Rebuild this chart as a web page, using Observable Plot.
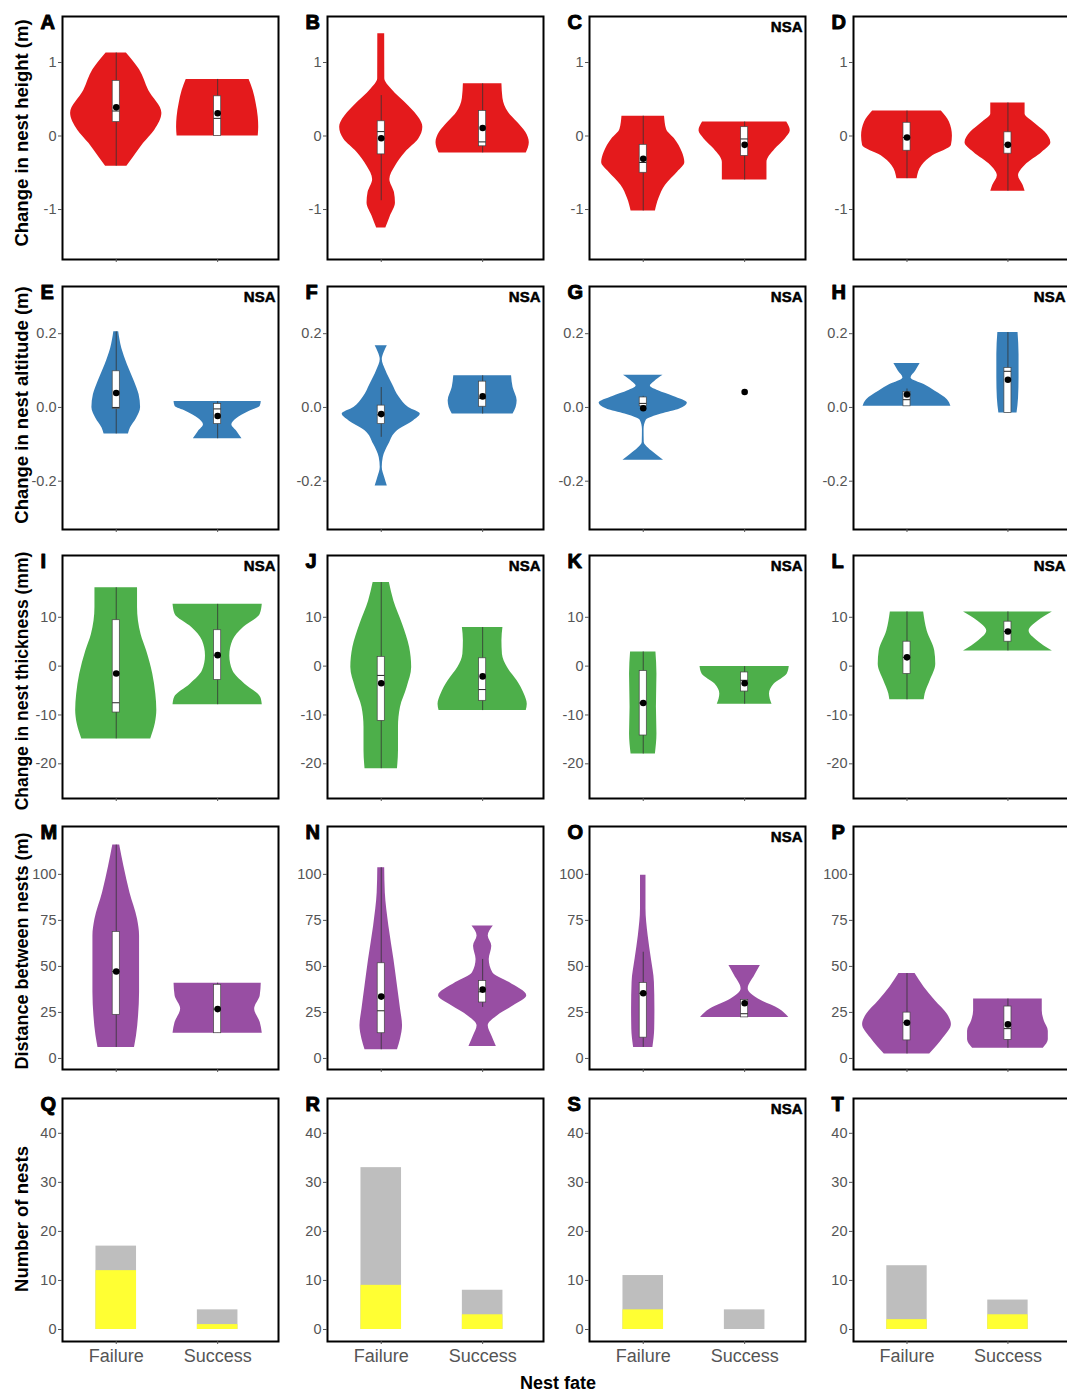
<!DOCTYPE html>
<html><head><meta charset="utf-8">
<script src="https://cdn.jsdelivr.net/npm/d3@7"></script>
<script src="https://cdn.jsdelivr.net/npm/@observablehq/plot@0.6"></script>
<style>
body{margin:0;background:#fff;}
#fig{position:relative;width:1067px;height:1391px;overflow:hidden;background:#fff;font-family:"Liberation Sans",Arial,sans-serif;}
.panel{position:absolute;}
.panel svg{max-width:none !important;}
.ytitle{position:absolute;width:320px;height:22px;line-height:22px;text-align:center;font-weight:bold;font-size:18.5px;color:#000;transform:rotate(-90deg);transform-origin:center center;white-space:nowrap;}
.xtitle{position:absolute;font-weight:bold;font-size:18px;color:#000;white-space:nowrap;transform:translate(-50%,-50%);}
</style></head>
<body><div id="fig"></div>
<script>
// ---------- categories & labels ----------
const fates = ["Failure", "Success"];
const fatePos = {Failure: 1, Success: 2};
const panelLetters = [["A","B","C","D"],["E","F","G","H"],["I","J","K","L"],["M","N","O","P"],["Q","R","S","T"]];
const nsaPanels = ["C","E","F","G","H","I","J","K","L","O","S"];
const rowTitles = ["Change in nest height (m)","Change in nest altitude (m)","Change in nest thickness (mm)","Distance between nests (m)","Number of nests"];
const xTitle = "Nest fate";
const rowColors = ["#E41A1C","#377EB8","#4DAF4A","#984EA3"];
const barColors = {total: "#BEBEBE", yellow: "#FFFF33"};
const yTicks = [[-1,0,1],[-0.2,0,0.2],[-20,-10,0,10],[0,25,50,75,100],[0,10,20,30,40]];
const yDomains = [[-1.68,1.626],[-0.331,0.328],[-27.1,22.65],[-6,126],[-2.45,47.1]];

// ---------- violin outlines: [value, half-width (in x units)] ----------
const heightViolins = [
 {panel:"A",fate:"Failure",profile:[[1.13,0.10],[0.9,0.23],[0.62,0.32],[0.31,0.45],[0.08,0.38],[-0.1,0.27],[-0.29,0.17],[-0.41,0.105]]},
 {panel:"A",fate:"Success",profile:[[0.77,0.31],[0.62,0.35],[0.44,0.38],[0.26,0.40],[0.12,0.405],[0.0,0.40]]},
 {panel:"B",fate:"Failure",profile:[[1.39,0.034],[0.78,0.035],[0.64,0.10],[0.41,0.27],[0.23,0.38],[0.12,0.41],[-0.04,0.37],[-0.22,0.24],[-0.41,0.14],[-0.59,0.085],[-0.77,0.13],[-0.91,0.14],[-1.09,0.09],[-1.25,0.045]]},
 {panel:"B",fate:"Success",profile:[[0.71,0.19],[0.51,0.2],[0.32,0.255],[0.19,0.34],[0.05,0.425],[-0.09,0.46],[-0.23,0.43]]},
 {panel:"C",fate:"Failure",profile:[[0.27,0.21],[0.09,0.23],[-0.04,0.31],[-0.22,0.385],[-0.36,0.41],[-0.49,0.34],[-0.67,0.22],[-0.85,0.155],[-1.02,0.12]]},
 {panel:"C",fate:"Success",profile:[[0.19,0.415],[0.07,0.45],[-0.04,0.40],[-0.18,0.30],[-0.36,0.22],[-0.6,0.22]]},
 {panel:"D",fate:"Failure",profile:[[0.34,0.34],[0.19,0.42],[0.0,0.45],[-0.13,0.44],[-0.27,0.255],[-0.4,0.15],[-0.58,0.1]]},
 {panel:"D",fate:"Success",profile:[[0.45,0.17],[0.3,0.17],[0.19,0.25],[0.05,0.37],[-0.09,0.425],[-0.22,0.34],[-0.4,0.17],[-0.54,0.105],[-0.67,0.15],[-0.75,0.17]]}
];
const altitudeViolins = [
 {panel:"E",fate:"Failure",profile:[[0.205,0.024],[0.16,0.055],[0.116,0.11],[0.07,0.18],[0.035,0.225],[0.0,0.24],[-0.03,0.2],[-0.056,0.14],[-0.072,0.12]]},
 {panel:"E",fate:"Success",profile:[[0.016,0.43],[0.003,0.42],[-0.011,0.31],[-0.03,0.19],[-0.047,0.14],[-0.065,0.19],[-0.085,0.24]]},
 {panel:"F",fate:"Failure",profile:[[0.167,0.06],[0.15,0.03],[0.13,0.01],[0.1,0.045],[0.063,0.11],[0.027,0.18],[0.0,0.27],[-0.018,0.385],[-0.036,0.32],[-0.063,0.16],[-0.1,0.075],[-0.136,0.02],[-0.163,0.01],[-0.19,0.034],[-0.213,0.06]]},
 {panel:"F",fate:"Success",profile:[[0.086,0.285],[0.054,0.3],[0.018,0.34],[0.0,0.33],[-0.018,0.3]]},
 {panel:"G",fate:"Failure",profile:[[0.087,0.195],[0.07,0.11],[0.058,0.07],[0.045,0.15],[0.03,0.3],[0.012,0.435],[-0.004,0.36],[-0.018,0.18],[-0.035,0.03],[-0.06,0.008],[-0.095,0.01],[-0.11,0.05],[-0.128,0.13],[-0.143,0.2]]},
 {panel:"H",fate:"Failure",profile:[[0.119,0.13],[0.098,0.085],[0.08,0.04],[0.062,0.17],[0.044,0.28],[0.021,0.4],[0.003,0.435]]},
 {panel:"H",fate:"Success",profile:[[0.203,0.1],[0.144,0.11],[0.08,0.11],[0.025,0.105],[-0.015,0.09]]}
];
const thicknessViolins = [
 {panel:"I",fate:"Failure",profile:[[16.05,0.21],[12,0.21],[6.5,0.245],[3.1,0.3],[-1.6,0.36],[-5.7,0.39],[-9.1,0.4],[-11.8,0.385],[-14.9,0.34]]},
 {panel:"I",fate:"Success",profile:[[12.65,0.44],[10.6,0.42],[7.9,0.255],[5.2,0.15],[2.1,0.12],[-0.95,0.15],[-3.7,0.27],[-6.4,0.425],[-7.9,0.44]]},
 {panel:"J",fate:"Failure",profile:[[17.1,0.08],[13.3,0.125],[8.6,0.21],[3.8,0.28],[-0.3,0.3],[-4.35,0.255],[-8.4,0.19],[-12.5,0.17],[-17.3,0.17],[-21,0.16]]},
 {panel:"J",fate:"Success",profile:[[7.9,0.2],[5.2,0.19],[2.45,0.195],[-0.3,0.245],[-3,0.34],[-5.7,0.41],[-7.8,0.44],[-9.1,0.43]]},
 {panel:"K",fate:"Failure",profile:[[2.9,0.125],[-1.6,0.135],[-8.4,0.13],[-13.9,0.135],[-18,0.12]]},
 {panel:"K",fate:"Success",profile:[[-0.1,0.44],[-1.6,0.42],[-3.7,0.29],[-5.7,0.245],[-7.8,0.27]]},
 {panel:"L",fate:"Failure",profile:[[11.1,0.165],[7.2,0.2],[3.1,0.275],[0.4,0.285],[-3,0.23],[-5.7,0.18],[-6.9,0.17]]},
 {panel:"L",fate:"Success",profile:[[11.1,0.44],[9.25,0.3],[7.2,0.21],[5.2,0.29],[3.1,0.44]]}
];
const distanceViolins = [
 {panel:"M",fate:"Failure",profile:[[115.9,0.034],[104.5,0.075],[90,0.135],[75.6,0.21],[66.5,0.23],[53.8,0.23],[35.8,0.23],[23.1,0.22],[12.3,0.2],[6,0.18]]},
 {panel:"M",fate:"Success",profile:[[40.9,0.43],[34,0.42],[26.8,0.365],[19.5,0.42],[13.7,0.44]]},
 {panel:"N",fate:"Failure",profile:[[103.6,0.034],[90,0.04],[72,0.075],[53.8,0.125],[39.4,0.16],[26.8,0.19],[17.7,0.21],[10.5,0.19],[4.7,0.16]]},
 {panel:"N",fate:"Success",profile:[[72,0.105],[66.5,0.055],[61,0.09],[53.8,0.065],[46.6,0.1],[41.2,0.265],[34,0.435],[28.6,0.305],[23.1,0.145],[17.7,0.055],[12.3,0.09],[6.5,0.135]]},
 {panel:"O",fate:"Failure",profile:[[99.5,0.027],[81.3,0.027],[66.8,0.048],[54.1,0.08],[41.4,0.11],[26.9,0.115],[16,0.113],[6,0.095]]},
 {panel:"O",fate:"Success",profile:[[50.5,0.155],[45,0.1],[37.7,0.035],[32.3,0.135],[26.9,0.34],[22.3,0.435]]},
 {panel:"P",fate:"Failure",profile:[[46.1,0.08],[38.7,0.17],[31.4,0.28],[24,0.4],[18.5,0.44],[11.1,0.36],[2.4,0.225]]},
 {panel:"P",fate:"Success",profile:[[32.3,0.34],[25.8,0.34],[20.3,0.36],[14.8,0.4],[10.1,0.4],[5.5,0.35]]}
];

// ---------- box summaries: [panel, fate, whiskerLow, q1, median, q3, whiskerHigh, mean] ----------
const heightBoxes = [
 ["A","Failure",-0.41,0.19,0.34,0.75,1.13,0.39],
 ["A","Success",0.0,0.0,0.24,0.54,0.77,0.31],
 ["B","Failure",-0.88,-0.25,0.06,0.2,0.55,-0.03],
 ["B","Success",-0.23,-0.14,-0.08,0.34,0.71,0.11],
 ["C","Failure",-1.02,-0.5,-0.36,-0.12,0.27,-0.31],
 ["C","Success",-0.6,-0.27,-0.04,0.12,0.19,-0.12],
 ["D","Failure",-0.58,-0.2,-0.02,0.18,0.34,-0.02],
 ["D","Success",-0.75,-0.24,-0.12,0.05,0.45,-0.12]
];
const altitudeBoxes = [
 ["E","Failure",-0.072,-0.004,0.0,0.098,0.205,0.039],
 ["E","Success",-0.085,-0.045,-0.004,0.009,0.016,-0.023],
 ["F","Failure",-0.081,-0.045,-0.02,0.005,0.054,-0.018],
 ["F","Success",-0.018,0.002,0.025,0.07,0.086,0.03],
 ["G","Failure",0.0,0.003,0.011,0.027,0.03,-0.002],
 ["G","Success",null,null,null,null,null,0.042],
 ["H","Failure",0.003,0.003,0.021,0.042,0.05,0.035],
 ["H","Success",-0.015,-0.015,0.098,0.107,0.203,0.075]
];
const thicknessBoxes = [
 ["I","Failure",-14.9,-9.5,-7.5,9.4,16.05,-1.5],
 ["I","Success",-7.9,-2.85,2.25,7.35,12.65,2.25],
 ["J","Failure",-21,-11.2,-1.9,1.9,17.1,-3.5],
 ["J","Success",-9.1,-7.1,-4.8,1.6,7.9,-2.1],
 ["K","Failure",-18,-14.2,-7.55,-1,2.9,-7.55],
 ["K","Success",-7.8,-5.2,-2.9,-1.3,-0.1,-3.5],
 ["L","Failure",-6.9,-1.6,1.8,5,11.1,1.8],
 ["L","Success",3.1,5,7.1,9.1,11.1,7.1]
];
const distanceBoxes = [
 ["M","Failure",6,23.7,47.2,68.7,115.9,47.2],
 ["M","Success",13.7,13.7,26.8,40,40.9,26.8],
 ["N","Failure",4.7,13.7,25.9,51.7,103.6,33.6],
 ["N","Success",27.7,30.4,36.2,42,53.8,37.4],
 ["O","Failure",6,11.3,35.4,41,57.7,35.4],
 ["O","Success",22.3,22.3,24.3,31.8,31.8,30],
 ["P","Failure",2.4,9.8,19.4,24.9,46.1,19.4],
 ["P","Success",5.5,10.1,16.2,28.2,32.3,18.5]
];

// ---------- nest counts (stacked bars) ----------
const nestTotals = [["Q","Failure",17],["Q","Success",4],["R","Failure",33],["R","Success",8],["S","Failure",11],["S","Success",4],["T","Failure",13],["T","Success",6]];
const nestYellow = [["Q","Failure",12],["Q","Success",1],["R","Failure",9],["R","Success",3],["S","Failure",4],["S","Success",0],["T","Failure",2],["T","Success",3]];

const rowViolins = [heightViolins, altitudeViolins, thicknessViolins, distanceViolins];
const rowBoxes = [heightBoxes, altitudeBoxes, thicknessBoxes, distanceBoxes];

// ---------- layout ----------
const colX = [62, 327, 589, 853];
const colW = [216, 216, 216, 215];
const rowY = [16, 286, 555, 826, 1098];
const panelH = 243;
const xDomain = [0.47, 2.6];
const boxHalf = 0.035, barHalf = 0.2;

const fig = document.getElementById("fig");
const fmt = r => d => (d < 0 ? "-" : "") + (r === 1 ? Math.abs(d).toFixed(1) : String(Math.abs(d)));

for (let r = 0; r < 5; r++) {
  for (let c = 0; c < 4; c++) {
    const letter = panelLetters[r][c];
    const mL = 48, mR = 6, mT = 6, mB = r === 4 ? 42 : 8;
    const marks = [];
    if (r < 4) {
      const color = rowColors[r];
      rowViolins[r].filter(v => v.panel === letter).forEach(v => {
        const p = fatePos[v.fate];
        const prof = v.profile.slice().sort((a, b) => a[0] - b[0]);
        marks.push(Plot.areaX(prof, {y: d => d[0], x1: d => p - d[1], x2: d => p + d[1], fill: color, curve: "monotone-y"}));
      });
      const boxes = rowBoxes[r].filter(b => b[0] === letter);
      const full = boxes.filter(b => b[2] != null);
      marks.push(Plot.ruleX(full, {x: b => fatePos[b[1]], y1: b => b[2], y2: b => b[6], stroke: "#333", strokeWidth: 0.8}));
      marks.push(Plot.rect(full, {x1: b => fatePos[b[1]] - boxHalf, x2: b => fatePos[b[1]] + boxHalf, y1: b => b[3], y2: b => b[5], fill: "white", stroke: "#444", strokeWidth: 0.7}));
      marks.push(Plot.ruleY(full, {y: b => b[4], x1: b => fatePos[b[1]] - boxHalf, x2: b => fatePos[b[1]] + boxHalf, stroke: "#222", strokeWidth: 1}));
      marks.push(Plot.dot(boxes, {x: b => fatePos[b[1]], y: b => b[7], r: 3.3, fill: "black", stroke: "none"}));
    } else {
      const tot = nestTotals.filter(b => b[0] === letter);
      const yel = nestYellow.filter(b => b[0] === letter && b[2] > 0);
      marks.push(Plot.rect(tot, {x1: b => fatePos[b[1]] - barHalf, x2: b => fatePos[b[1]] + barHalf, y1: 0, y2: b => b[2], fill: barColors.total}));
      marks.push(Plot.rect(yel, {x1: b => fatePos[b[1]] - barHalf, x2: b => fatePos[b[1]] + barHalf, y1: 0, y2: b => b[2], fill: barColors.yellow}));
    }
    marks.push(Plot.frame({stroke: "black", strokeWidth: 2}));
    marks.push(Plot.axisY({ticks: yTicks[r], tickFormat: fmt(r), tickSize: 4, tickPadding: 2, fontSize: 14.5, color: "#555", label: null}));
    marks.push(Plot.axisX({ticks: [1, 2], tickFormat: r === 4 ? (d => fates[d - 1]) : (() => ""), tickSize: 3, tickPadding: 5, fontSize: 18, color: "#555", label: null}));
    marks.push(Plot.text([letter], {frameAnchor: "top-left", dx: -22, dy: -2, text: d => d, textAnchor: "start", lineAnchor: "top", fontSize: 20, fontWeight: "bold", fill: "black", stroke: "black", strokeWidth: 1}));
    if (nsaPanels.includes(letter)) {
      marks.push(Plot.text(["NSA"], {frameAnchor: "top-right", dx: -3, dy: 5, text: d => d, textAnchor: "end", lineAnchor: "top", fontSize: 15, fontWeight: "bold", fill: "black", stroke: "black", strokeWidth: 0.5}));
    }
    const w = mL + colW[c] + mR, h = mT + panelH + mB;
    const svg = Plot.plot({
      width: w, height: h,
      marginLeft: mL, marginRight: mR, marginTop: mT, marginBottom: mB,
      x: {domain: xDomain},
      y: {domain: yDomains[r]},
      style: {fontFamily: "Liberation Sans, Arial, sans-serif", fontSize: "14px", background: "transparent", overflow: "visible", maxWidth: "none"},
      marks
    });
    svg.style.maxWidth = "none";
    svg.style.width = w + "px";
    svg.style.height = h + "px";
    const div = document.createElement("div");
    div.className = "panel";
    div.style.left = (colX[c] - mL) + "px";
    div.style.top = (rowY[r] - mT) + "px";
    div.style.width = w + "px";
    div.style.height = h + "px";
    div.appendChild(svg);
    fig.appendChild(div);
  }
}

const titleCenters = [133, 405, 681, 951, 1219];
const titleSizes = [18.5, 18.5, 17.5, 18, 18.5];
rowTitles.forEach((t, i) => {
  const d = document.createElement("div");
  d.className = "ytitle";
  d.textContent = t;
  d.style.fontSize = titleSizes[i] + "px";
  d.style.left = (22 - 160) + "px";
  d.style.top = (titleCenters[i] - 11) + "px";
  fig.appendChild(d);
});
const xt = document.createElement("div");
xt.className = "xtitle";
xt.textContent = xTitle;
xt.style.left = "558px";
xt.style.top = "1383px";
fig.appendChild(xt);
</script>
</body></html>
